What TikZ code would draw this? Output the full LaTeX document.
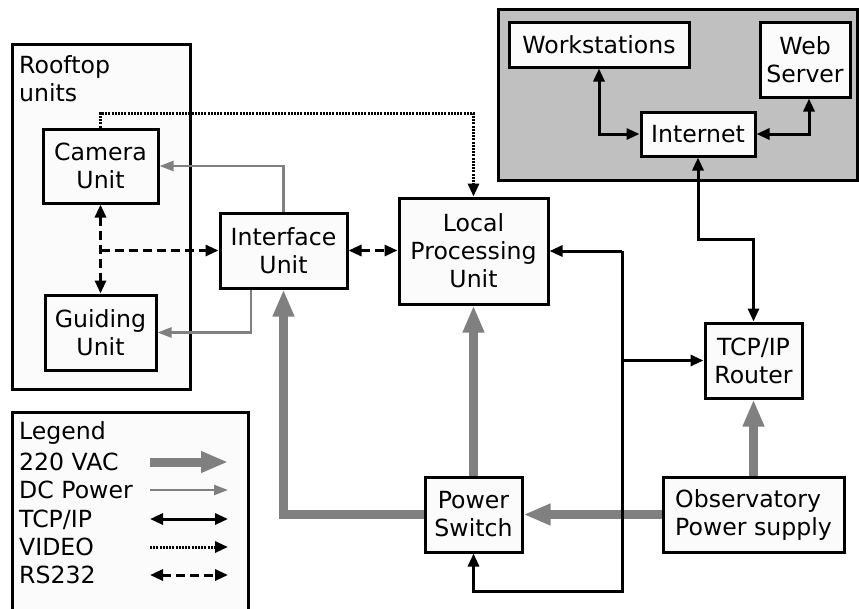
\documentclass[tikz,border=0pt]{standalone}
\usepackage{fontspec}
\setmainfont{DejaVu Sans}
\usetikzlibrary{arrows.meta}
\definecolor{boxfill}{RGB}{251,251,251}
\definecolor{panelgray}{RGB}{192,192,192}
\definecolor{wiregray}{RGB}{128,128,128}
\tikzset{
    unit/.style    = {shape=rectangle, draw, fill=boxfill,
        line width=3pt, align=center, inner sep=2pt,
        font=\fontsize{23.6}{28}\selectfont},
    frame/.style   = {draw, line width=3pt, fill=boxfill},
    caption/.style = {inner sep=0pt, font=\fontsize{23.6}{28}\selectfont},
    ac/.style      = {draw=wiregray, line width=9pt,
        -{Triangle[length=27pt,width=20pt]}},
    dc/.style      = {draw=wiregray, line width=2.4pt,
        -{Triangle[length=14pt,width=10pt]}},
    tcp/.style     = {line width=3pt, >={Triangle[length=13pt,width=11pt]}},
    tcpboth/.style = {tcp, <->},
    video/.style   = {tcp, dash pattern=on 2pt off 1.2pt, ->},
    rs/.style      = {tcp, dash pattern=on 9pt off 5pt},
    rsboth/.style  = {rs, <->}
}

\begin{document}
\begin{tikzpicture}[x=1pt, y=-1pt, line join=miter]
    \useasboundingbox (0,0) rectangle (859,608);

    % containers
    \draw[frame] (12,44) rectangle (190,389);
    \draw[frame] (12,412) rectangle (248,625);
    \draw[line width=3pt, fill=panelgray] (498,9) rectangle (857,180);
    \node[caption, anchor=north west, align=left] (rooftitle) at (19,55) {Rooftop\\units};

    % units
    \node[unit, minimum width=115pt, minimum height=74pt] (camera)  at (100.5,166)   {Camera\\Unit};
    \node[unit, minimum width=111pt, minimum height=75pt] (guiding) at (100.5,332.5) {Guiding\\Unit};
    \node[unit, minimum width=127pt, minimum height=75pt] (iface)   at (283.5,250.5) {Interface\\Unit};
    \node[unit, minimum width=149pt, minimum height=106pt] (lpu)    at (473.5,251)   {Local\\Processing\\Unit};
    \node[unit, minimum width=180pt, minimum height=45pt] (ws)      at (599,44.5)    {Workstations};
    \node[unit, minimum width=90pt,  minimum height=75pt] (web)     at (805,59.5)    {Web\\Server};
    \node[unit, minimum width=114pt, minimum height=44pt] (inet)    at (698,134)     {Internet};
    \node[unit, minimum width=97pt,  minimum height=75pt] (router)  at (753.5,360.5) {TCP/IP\\Router};
    \node[unit, minimum width=97pt,  minimum height=75pt] (pswitch) at (473.5,514.5) {Power\\Switch};
    \node[unit, minimum width=181pt, minimum height=75pt, align=left] (obs) at (753.5,514.5) {Observatory\\Power supply};

    % 220 VAC
    \draw[ac] (obs.west) -- (pswitch.east);
    \draw[ac] (obs.north) -- (router.south);
    \draw[ac] (pswitch.north) -- (lpu.south);
    \draw[ac] (pswitch.west) -| (iface.south);

    % DC power
    \draw[dc] (iface.north) |- (camera.east);
    \draw[dc] ([xshift=-32.5pt]iface.south) |- (guiding.east);

    % video
    \coordinate (vidbend) at (100.5,113);
    \draw[video] (camera.north) -- (vidbend) -| (lpu.north);

    % RS232
    \coordinate (rsjoin) at (camera.south |- iface.west);
    \draw[rsboth] (camera.south) -- (guiding.north);
    \draw[rs, ->] (rsjoin) -- (iface.west);
    \draw[rsboth] (iface.east) -- (iface.east -| lpu.west);

    % TCP/IP
    \draw[tcpboth] (ws.south) |- (inet.west);
    \draw[tcpboth] (inet.east) -| ([xshift=4pt]web.south);
    \coordinate (netbend) at (753.5,239);
    \draw[tcpboth] (inet.south) |- (netbend) -- (router.north);
    \coordinate (tap) at (622,251);
    \coordinate (foot) at (622,591);
    \draw[tcp, ->] (tap) -- (lpu.east);
    \draw[tcp, ->] (tap) -- (foot) -| (pswitch.south);
    \draw[tcp, ->] (tap |- router.west) -- (router.west);

    % legend
    \node[caption, anchor=base west] (legtitle) at (19,439) {Legend};
    \foreach \txt/\sty/\y [count=\i] in {220 VAC/ac/470, DC Power/dc/498,
        {TCP/IP}/tcpboth/527, VIDEO/video/555, RS232/rsboth/583}
    {
        \node[caption, anchor=base west] (leg\i) at (19,\y) {\txt};
        \draw[\sty] (150,\y-8) -- (228,\y-8);
    }
\end{tikzpicture}
\end{document}
